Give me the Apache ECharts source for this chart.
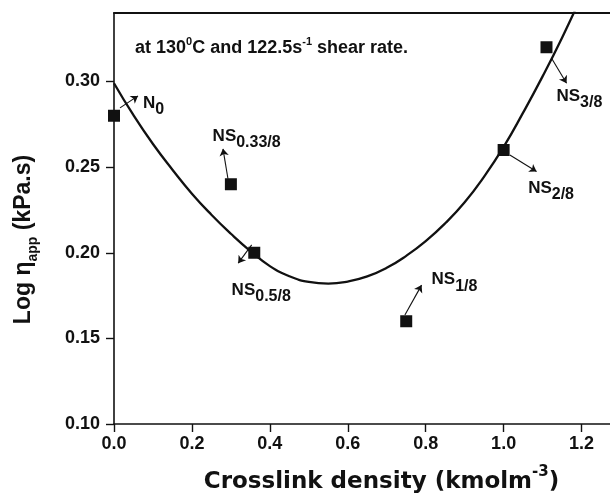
<!DOCTYPE html>
<html>
<head>
<meta charset="utf-8">
<script src="https://cdn.jsdelivr.net/npm/echarts@6/dist/echarts.min.js"></script>
<style>
  html, body { margin: 0; padding: 0; background: #ffffff; }
  #chart { width: 610px; height: 493px; }
</style>
</head>
<body>
<div id="chart"></div>
<script>
// Measured samples: crosslink density against log apparent viscosity
const sampleBase = ['N', 'NS', 'NS', 'NS', 'NS', 'NS'];
const sampleSub = ['0', '0.33/8', '0.5/8', '1/8', '2/8', '3/8'];
const crosslinkDensity = [0.00, 0.30, 0.36, 0.75, 1.00, 1.11];
const logViscosity = [0.28, 0.24, 0.20, 0.16, 0.26, 0.32];

// Fitted trend curve through the samples
const fitX = [0.00, 0.05, 0.10, 0.15, 0.20, 0.25, 0.30, 0.35, 0.40, 0.45, 0.50, 0.55,
              0.60, 0.65, 0.70, 0.75, 0.80, 0.85, 0.90, 0.95, 1.00, 1.05, 1.10, 1.15, 1.20];
const fitY = [0.2990, 0.2803, 0.2635, 0.2485, 0.2345, 0.2222, 0.2111, 0.2010, 0.1922, 0.1863, 0.1830, 0.1820,
              0.1832, 0.1862, 0.1912, 0.1982, 0.2068, 0.2172, 0.2295, 0.2445, 0.2618, 0.2818, 0.3030, 0.3256, 0.3500];

// Axis ticks
const xTicks = [0.0, 0.2, 0.4, 0.6, 0.8, 1.0, 1.2];
const yTicks = [0.10, 0.15, 0.20, 0.25, 0.30];

// Where each sample's name sits, and its pointer arrow (data units)
const labelAt = [[0.0744, 0.2936], [0.2532, 0.2741], [0.3020, 0.1844],
                 [0.8151, 0.1903], [1.0630, 0.2439], [1.1358, 0.2975]];
const arrowFrom = [[0.0154, 0.2846], [0.2925, 0.2432], [0.3533, 0.2046],
                   [0.7466, 0.1636], [1.0160, 0.2571], [1.1230, 0.3136]];
const arrowTo = [[0.0616, 0.2916], [0.2797, 0.2607], [0.3188, 0.1939],
                 [0.7894, 0.1811], [1.0845, 0.2474], [1.1615, 0.2990]];

const INK = '#111111';
const FONT = '"Liberation Sans", Arial, sans-serif';

const chart = echarts.init(document.getElementById('chart'), null, { renderer: 'canvas' });

const xRange = { min: 0, max: 1.273 };
const yRange = { min: 0.10, max: 0.34 };

chart.setOption({
  animation: false,
  backgroundColor: '#ffffff',
  grid: { left: 114, right: 0, top: 13, bottom: 69, containLabel: false, outerBoundsMode: 'none' },
  xAxis: [
    {
      type: 'value', position: 'bottom', min: xRange.min, max: xRange.max,
      name: '{m|Crosslink density (kmolm}{p|-3}{m|)}',
      nameLocation: 'middle', nameGap: 32,
      nameTextStyle: {
        padding: [0, 0, 0, 39],
        rich: {
          m: { fontFamily: '"DejaVu Sans", sans-serif', fontWeight: 'bold', fontSize: 23, lineHeight: 23, color: INK, padding: [13, 0, 0, 0] },
          p: { fontFamily: '"DejaVu Sans", sans-serif', fontWeight: 'bold', fontSize: 15, lineHeight: 15, color: INK, verticalAlign: 'top' }
        }
      },
      axisLine: { show: true, onZero: false, lineStyle: { color: INK, width: 1.6 } },
      axisTick: { show: true, inside: false, length: 8, customValues: xTicks, lineStyle: { color: INK, width: 1.4 } },
      axisLabel: {
        customValues: xTicks, margin: 11,
        formatter: v => v.toFixed(1),
        fontFamily: FONT, fontWeight: 'bold', fontSize: 18, color: INK
      },
      splitLine: { show: false }
    },
    {
      type: 'value', position: 'top', min: xRange.min, max: xRange.max,
      axisLine: { show: true, onZero: false, lineStyle: { color: INK, width: 2 } },
      axisTick: { show: false }, axisLabel: { show: false }, splitLine: { show: false }
    }
  ],
  yAxis: {
    type: 'value', min: yRange.min, max: yRange.max,
    name: '{m|Log η}{s|app}{m| (kPa.s)}',
    nameLocation: 'middle', nameRotate: 90, nameGap: 76,
    nameTextStyle: {
      padding: [0, 42, 0, 0],
      rich: {
        m: { fontFamily: FONT, fontWeight: 'bold', fontSize: 23, lineHeight: 23, color: INK, padding: [0, 0, 5, 0] },
        s: { fontFamily: FONT, fontWeight: 'bold', fontSize: 14, lineHeight: 14, color: INK, padding: [14, 0, 0, 0] }
      }
    },
    axisLine: { show: true, onZero: false, lineStyle: { color: INK, width: 1.6 } },
    axisTick: { show: true, inside: false, length: 8, customValues: yTicks, lineStyle: { color: INK, width: 1.4 } },
    axisLabel: {
      customValues: yTicks, margin: 14,
      formatter: v => v.toFixed(2),
      fontFamily: FONT, fontWeight: 'bold', fontSize: 18, color: INK
    },
    splitLine: { show: false }
  },
  graphic: [
    {
      type: 'text', left: 135, top: 33, z: 10,
      style: {
        text: '{m|at 130}{u|0}{m|C and 122.5s}{u|-1}{m| shear rate.}',
        rich: {
          m: { fontFamily: FONT, fontWeight: 'bold', fontSize: 18, lineHeight: 18, fill: INK, padding: [6, 0, 0, 0] },
          u: { fontFamily: FONT, fontWeight: 'bold', fontSize: 11, lineHeight: 11, fill: INK, verticalAlign: 'top' }
        }
      }
    }
  ],
  series: [
    {
      name: 'fit', type: 'line', xAxisIndex: 0,
      data: fitX.map((x, i) => [x, fitY[i]]),
      smooth: 0.5, showSymbol: false, symbol: 'none', clip: true,
      lineStyle: { color: INK, width: 2.3 }, z: 2
    },
    {
      name: 'samples', type: 'scatter', xAxisIndex: 0,
      data: crosslinkDensity.map((x, i) => [x, logViscosity[i]]),
      symbol: 'rect', symbolSize: 12,
      itemStyle: { color: INK, opacity: 1 }, z: 3
    },
    {
      name: 'pointers', type: 'lines', coordinateSystem: 'cartesian2d', xAxisIndex: 0,
      data: arrowFrom.map((p, i) => ({ coords: [p, arrowTo[i]] })),
      symbol: ['none', 'arrow'], symbolSize: 7,
      lineStyle: { color: INK, width: 1.1, opacity: 1, curveness: 0 }, z: 4
    },
    {
      name: 'names', type: 'scatter', xAxisIndex: 0,
      data: labelAt.map((p, i) => ({
        value: p,
        label: { formatter: '{b|' + sampleBase[i] + '}{s|' + sampleSub[i] + '}' }
      })),
      symbol: 'circle', symbolSize: 0.1,
      itemStyle: { color: 'rgba(0,0,0,0)', opacity: 1 },
      silent: true, z: 5,
      label: {
        show: true, position: [0, 0], offset: [0, 5], align: 'left', verticalAlign: 'top', opacity: 1,
        rich: {
          b: { fontFamily: FONT, fontWeight: 'bold', fontSize: 17, lineHeight: 17, color: INK, padding: [0, 0, 6, 0] },
          s: { fontFamily: FONT, fontWeight: 'bold', fontSize: 16, lineHeight: 16, color: INK, padding: [7, 0, 0, 0] }
        }
      }
    }
  ]
});
</script>
</body>
</html>
